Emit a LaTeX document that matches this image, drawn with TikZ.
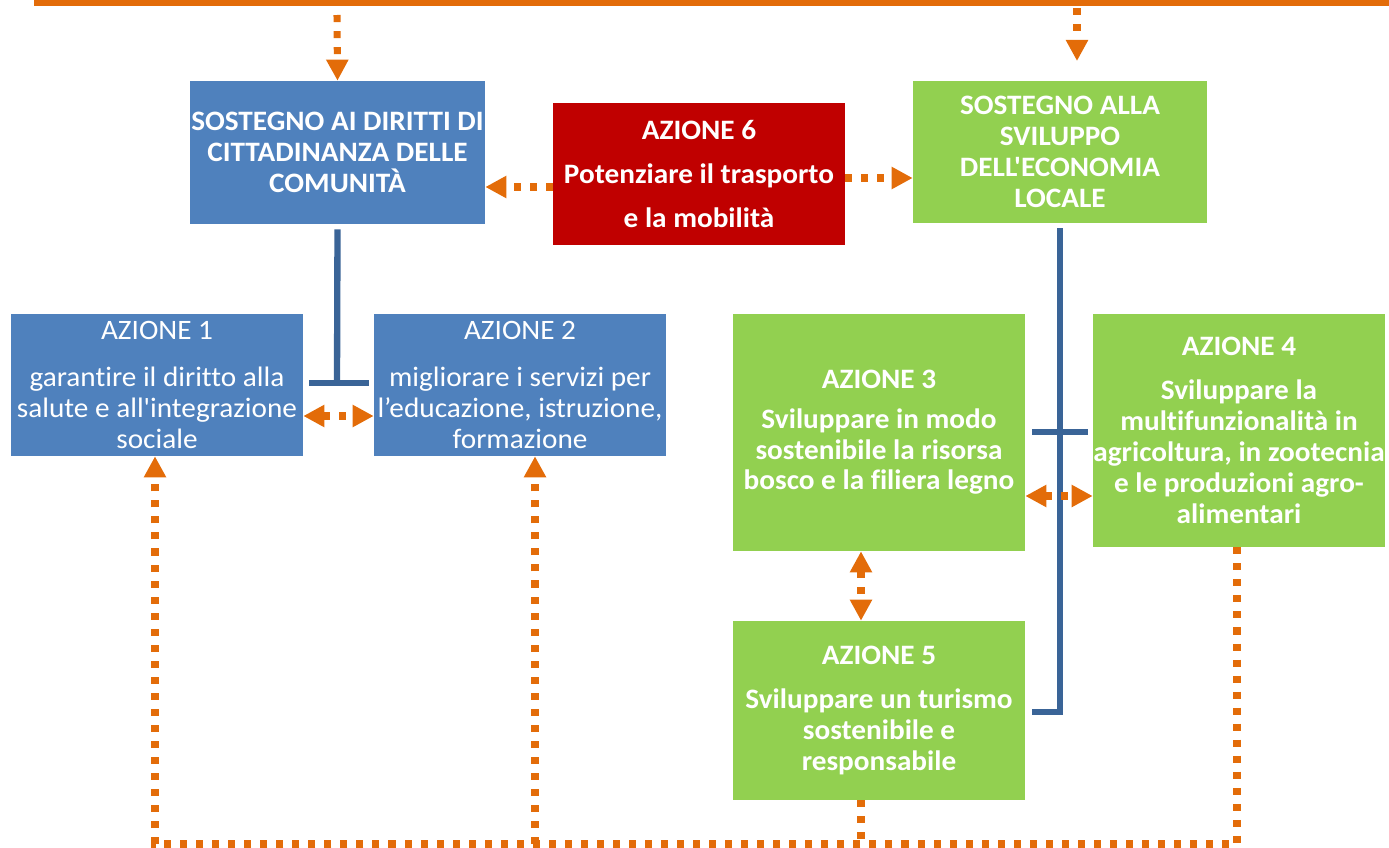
\documentclass[tikz,border=0pt]{standalone}
\usepackage{fontspec}
\newfontfamily\carlito{Carlito}[FakeStretch=1.04,Ligatures=NoCommon]
\usetikzlibrary{arrows.meta}
\definecolor{boxblue}{HTML}{4F81BD}
\definecolor{boxgreen}{HTML}{92D050}
\definecolor{boxred}{HTML}{C00000}
\definecolor{linkorange}{HTML}{E36C09}
\definecolor{linkblue}{HTML}{3A6497}

\begin{document}
\begin{tikzpicture}[x=0.025cm,y=-0.025cm,
    box/.style={rectangle,inner sep=0pt,minimum width=7.3cm,minimum height=3.55cm,align=center,text=white,font=\carlito\fontsize{20}{22}\selectfont},
    blue node/.style={box,fill=boxblue},
    green node/.style={box,fill=boxgreen,font=\carlito\bfseries\fontsize{20}{22}\selectfont},
    red node/.style={box,fill=boxred,font=\carlito\bfseries\fontsize{20}{22}\selectfont},
    dots/.style={draw=linkorange,line width=5pt,dash pattern=on 5pt off 6.4pt},
    tip/.style={dots,-{Triangle[length=15pt,width=15pt]}},
    both tips/.style={dots,{Triangle[length=15pt,width=15pt]}-{Triangle[length=15pt,width=15pt]}},
    blue link/.style={draw=linkblue,line width=4.5pt}]
  \useasboundingbox (0,0) rectangle (1389,848);

  % top level
  \node[blue node,font=\carlito\bfseries\fontsize{20}{22}\selectfont,minimum width=7.375cm,minimum height=3.575cm] (sdc) at (337.5,152.5) {SOSTEGNO AI DIRITTI DI\\CITTADINANZA DELLE\\COMUNITÀ};
  \node[red node] (a6) at (699,174) {AZIONE 6\\[9pt]Potenziare il trasporto\\[9pt]e la mobilità};
  \node[green node,minimum width=7.35cm] (sel) at (1060,152) {SOSTEGNO ALLA\\SVILUPPO\\DELL'ECONOMIA\\LOCALE};

  % actions
  \node[blue node] (a1) at (157,385) {AZIONE 1\\[12pt]garantire il diritto alla\\salute e all'integrazione\\sociale};
  \node[blue node] (a2) at (520,385) {AZIONE 2\\[12pt]migliorare i servizi per\\l’educazione, istruzione,\\formazione};
  \node[green node,minimum height=5.925cm] (a3) at (879,432.5) {AZIONE 3\\[6pt]Sviluppare in modo\\sostenibile la risorsa\\bosco e la filiera legno};
  \node[green node,minimum height=5.825cm] (a4) at (1239,430.5) {AZIONE 4\\[9pt]Sviluppare la\\multifunzionalità in\\agricoltura, in zootecnia\\e le produzioni  agro-\\alimentari};
  \node[green node,minimum height=4.475cm] (a5) at (879,710.5) {AZIONE 5\\[9pt]Sviluppare un turismo\\sostenibile e\\responsabile};

  % orange bar and coordinates
  \coordinate (topL) at (34,3);
  \coordinate (topR) at (1389,3);
  \coordinate (in1) at (337,15);
  \coordinate (in2) at (1077,8);
  \coordinate (tee1) at (337,383);
  \coordinate (tee2) at (1060,432);
  \coordinate (hook) at (1060,712);
  \coordinate (c1) at (155,844);
  \coordinate (c2) at (535,844);
  \coordinate (c5) at (861,844);
  \coordinate (c4) at (1237,844);

  \draw[draw=linkorange,line width=4.3pt] (topL) -- (topR);
  \draw[tip] (in1) -- (sdc.north);
  \draw[tip,shorten >=14pt] (in2) -- (sel.north -| in2);

  % blue structure lines
  \draw[blue link] (sdc.south) ++(0,5) -- (tee1);
  \draw[blue link] (tee1) ++(-28,0) -- ++(60,0);
  \draw[blue link] (sel.south) ++(0,5) -- (hook) -- ++(-28,0);
  \draw[blue link] (tee2) ++(-28,0) -- ++(56,0);

  % orange links
  \draw[tip] (a6.west |- 0,187) -- (sdc.east |- 0,187);
  \draw[tip] (a6.east |- 0,178) -- (sel.west |- 0,178);
  \draw[both tips] (a1.east |- 0,416) -- (a2.west |- 0,416);
  \draw[both tips] (a3.east |- 0,496) -- (a4.west |- 0,496);
  \draw[both tips] (a3.south -| 861,0) -- (a5.north -| 861,0);
  \draw[tip] (a4.south -| c4) -- (c4) -- (c1) -- (a1.south -| c1);
  \draw[tip] (c2) -- (a2.south -| c2);
  \draw[dots] (a5.south -| c5) -- (c5);
\end{tikzpicture}
\end{document}
